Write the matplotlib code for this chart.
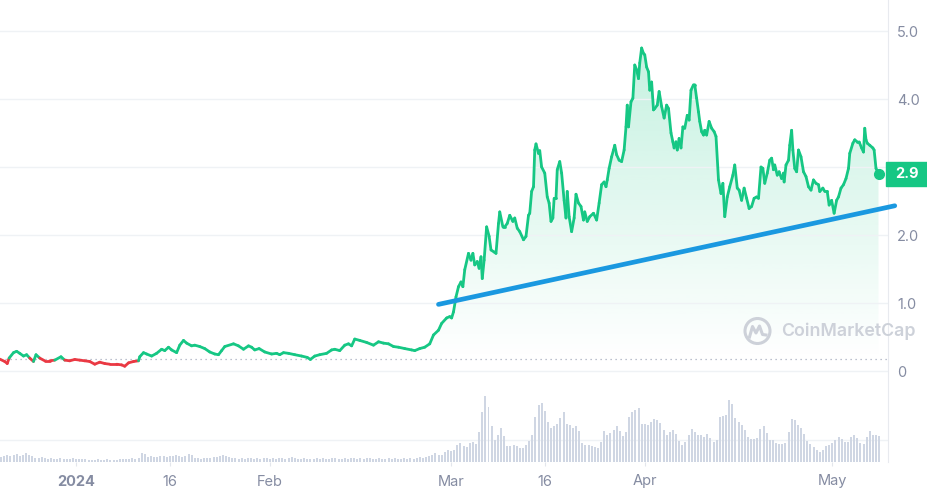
import matplotlib.pyplot as plt
import matplotlib.transforms as mtransforms
import matplotlib.colors as mcolors
import numpy as np
from matplotlib.collections import LineCollection
from matplotlib.patches import Circle, Rectangle
from matplotlib.path import Path

plt.rcParams['font.family'] = ['Inter', 'DejaVu Sans']

# price, x = days counted from 2024-01-01
days = [-12.2, -11.4, -11.0, -10.7, -10.0, -9.5, -9.0, -8.4, -7.9, -7.4,
        -6.8, -6.4, -5.8, -5.0, -4.2, -3.4, -2.4, -1.8, -1.0, -0.2,
        0.6, 1.4, 2.2, 3.0, 3.8, 4.6, 5.4, 6.5, 7.3, 7.8,
        8.4, 9.2, 10.0, 10.2, 10.8, 11.3, 12.1, 12.9, 13.7, 14.2,
        14.8, 15.3, 16.1, 16.6, 17.2, 17.7, 18.5, 19.0, 19.8, 20.6,
        21.4, 22.2, 22.8, 23.3, 23.8, 25.2, 26.0, 26.8, 27.6, 28.1,
        28.6, 29.3, 30.2, 31.3, 32.1, 32.6, 33.2, 34.0, 35.0, 36.1,
        37.0, 37.5, 38.2, 39.0, 40.1, 40.9, 41.4, 42.2, 43.0, 43.6,
        44.1, 44.6, 45.4, 46.5, 47.6, 48.4, 49.2, 50.0, 50.8, 51.6,
        52.6, 53.7, 54.2, 55.0, 55.8, 56.6, 57.2, 58.0, 58.5, 59.3,
        59.8, 60.1, 60.4, 60.8, 61.2, 61.6, 61.9, 62.2, 62.8, 63.2,
        63.5, 63.8, 64.2, 64.5, 64.8, 65.0, 65.3, 65.7, 66.1, 66.4,
        66.9, 67.2, 67.6, 67.8, 68.3, 68.6, 69.0, 69.4, 69.9, 70.2,
        70.6, 71.0, 71.6, 72.0, 72.4, 72.6, 72.9, 73.2, 73.4, 73.6,
        74.0, 74.2, 74.5, 75.0, 75.4, 75.7, 76.0, 76.3, 76.5, 76.8,
        77.0, 77.4, 77.7, 78.1, 78.4, 78.6, 78.9, 79.3, 79.7, 80.0,
        80.4, 80.8, 81.2, 81.4, 81.8, 82.2, 82.8, 83.3, 83.7, 84.1,
        84.5, 84.8, 85.0, 85.3, 85.7, 86.0, 86.2, 86.5, 86.9, 87.3,
        87.7, 88.0, 88.2, 88.4, 88.8, 89.1, 89.4, 89.7, 90.0, 90.2,
        90.5, 90.8, 91.0, 91.3, 91.6, 91.8, 92.1, 92.4, 92.6, 93.0,
        93.3, 93.7, 94.1, 94.5, 94.8, 95.2, 95.5, 95.7, 96.0, 96.2,
        96.5, 96.8, 97.1, 97.4, 97.8, 98.1, 98.4, 98.8, 99.0, 99.3,
        99.6, 99.8, 100.1, 100.4, 100.6, 100.9, 101.3, 101.7, 102.1, 102.4,
        102.8, 103.2, 103.5, 103.8, 104.2, 104.6, 105.1, 105.4, 105.8, 106.1,
        106.5, 106.9, 107.3, 107.7, 108.1, 108.5, 108.9, 109.2, 109.6, 109.9,
        110.2, 110.6, 111.0, 111.3, 111.6, 111.8, 112.2, 112.5, 112.9, 113.2,
        113.3, 113.6, 114.0, 114.2, 114.5, 114.7, 115.0, 115.3, 115.6, 116.0,
        116.4, 116.8, 117.2, 117.6, 118.0, 118.4, 118.8, 119.0, 119.5, 119.8,
        120.2, 120.5, 120.9, 121.3, 121.7, 122.0, 122.4, 122.8, 123.2, 123.6,
        123.8, 124.3, 124.6, 125.0, 125.3, 125.7, 126.0, 126.2, 126.4, 126.6,
        127.0, 127.5, 127.7, 128.0, 128.4]
price = [0.175, 0.14, 0.11, 0.19, 0.27, 0.29, 0.26, 0.22, 0.24, 0.19,
         0.14, 0.24, 0.19, 0.15, 0.15, 0.16, 0.21, 0.16, 0.15, 0.17,
         0.16, 0.15, 0.14, 0.10, 0.13, 0.11, 0.10, 0.10, 0.09, 0.07,
         0.12, 0.14, 0.15, 0.21, 0.27, 0.25, 0.22, 0.26, 0.32, 0.30,
         0.35, 0.31, 0.27, 0.38, 0.45, 0.41, 0.37, 0.38, 0.36, 0.33,
         0.28, 0.25, 0.24, 0.30, 0.36, 0.40, 0.37, 0.32, 0.37, 0.35,
         0.31, 0.33, 0.28, 0.25, 0.26, 0.24, 0.27, 0.26, 0.24, 0.22,
         0.20, 0.17, 0.22, 0.24, 0.26, 0.31, 0.32, 0.30, 0.38, 0.40,
         0.37, 0.47, 0.45, 0.42, 0.38, 0.43, 0.41, 0.40, 0.36, 0.35,
         0.33, 0.31, 0.30, 0.33, 0.35, 0.40, 0.53, 0.60, 0.70, 0.78,
         0.80, 0.78, 0.87, 1.09, 1.24, 1.31, 1.24, 1.49, 1.73, 1.63,
         1.73, 1.56, 1.61, 1.51, 1.68, 1.36, 1.63, 2.12, 1.98, 1.78,
         1.75, 1.73, 2.17, 2.34, 2.12, 2.12, 2.17, 2.29, 2.20, 2.25,
         2.10, 2.05, 1.93, 1.98, 2.29, 2.32, 2.64, 2.71, 3.25, 3.34,
         3.20, 3.24, 3.00, 2.91, 2.56, 2.47, 2.20, 2.25, 2.54, 2.54,
         2.96, 3.08, 2.91, 2.51, 2.25, 2.64, 2.27, 2.05, 2.25, 2.60,
         2.47, 2.42, 2.22, 2.34, 2.20, 2.27, 2.32, 2.22, 2.47, 2.74,
         2.78, 2.71, 2.81, 2.98, 3.15, 3.25, 3.32, 3.18, 3.10, 3.08,
         3.25, 3.59, 3.91, 3.59, 3.96, 4.01, 4.50, 4.43, 4.30, 4.53,
         4.75, 4.67, 4.65, 4.47, 4.40, 4.13, 4.25, 3.84, 3.86, 3.91,
         4.11, 3.89, 3.72, 3.91, 3.86, 3.50, 3.37, 3.28, 3.37, 3.25,
         3.42, 3.28, 3.59, 3.57, 3.76, 3.69, 4.13, 4.21, 4.21, 4.01,
         3.81, 3.67, 3.52, 3.47, 3.54, 3.47, 3.67, 3.57, 3.52, 3.45,
         2.81, 2.61, 2.76, 2.27, 2.56, 2.71, 2.88, 3.03, 2.69, 2.66,
         2.51, 2.69, 2.54, 2.39, 2.42, 2.54, 2.56, 2.54, 3.00, 2.98,
         2.76, 2.91, 3.10, 3.13, 2.96, 3.03, 2.88, 2.93, 2.83, 2.91,
         2.78, 3.03, 3.10, 3.32, 3.54, 3.25, 2.98, 2.93, 3.25, 3.15,
         2.93, 2.86, 2.71, 2.66, 2.81, 2.76, 2.74, 2.64, 2.69, 2.64,
         2.64, 2.44, 2.51, 2.32, 2.51, 2.56, 2.69, 2.74, 2.83, 2.98,
         3.20, 3.35, 3.40, 3.37, 3.37, 3.28, 3.22, 3.57, 3.40, 3.35,
         3.32, 3.28, 3.25, 2.98, 2.90]

# volume, one bar every 12 hours starting 2023-12-20 (day -12)
vol_start = -12.0
volume = [5, 6, 7, 6, 7, 8, 6, 7, 9, 7, 6,
          4, 4, 5, 4, 3, 4, 3, 3, 4, 3, 3, 3, 4, 3, 3, 3,
          3, 2, 2, 2, 3, 2, 2, 3, 2, 2, 2, 3, 3,
          3, 3, 4, 3, 4, 9, 8,
          5, 6, 5, 5, 6, 6, 5, 6, 6, 7, 6, 5, 6,
          8, 7, 4, 4, 3, 4, 4, 4, 5, 5, 6, 7, 6, 5,
          4, 4, 3, 4, 3, 4, 4, 3, 4, 3, 4, 4,
          3, 4, 3, 4, 4, 3, 4, 5, 4, 3, 3, 4, 3, 3, 3, 4, 3, 4, 3, 3,
          4, 4, 3, 3, 4, 3, 4, 4, 3, 4, 3, 4, 4, 3, 3, 4, 3, 3, 4, 3,
          4, 3, 3, 4, 3, 4, 3, 4, 5, 4, 5, 6, 7,
          9, 7, 7, 10, 12, 11, 12, 17, 19, 16, 15, 19, 20, 18, 30, 50,
          66, 55, 36, 22, 27, 34, 26, 16, 16, 17, 16, 14, 14, 17, 21, 27,
          45, 57, 59, 51, 40, 34, 36, 38, 44, 50, 38, 37, 34, 36, 31, 19,
          17, 17, 16, 15, 14, 20, 31, 27, 29, 32, 36, 31, 26, 30, 45, 50,
          52, 54, 38, 38, 37, 40, 43, 42, 39, 32, 27, 30, 32, 28, 21, 17,
          20, 27, 33, 30, 27, 27, 25, 28, 24, 20, 22, 45, 46, 47, 62, 58,
          44, 40, 37, 32, 25, 23, 23, 24, 33, 36, 29, 22, 22, 19, 18, 18,
          19, 30, 43, 42, 37, 34, 28, 21, 18, 15, 12, 10, 12, 16, 17, 19,
          22, 25, 23, 20, 20, 25, 27, 24, 19, 18, 25, 31, 27, 27, 26]

tick_days = [0, 15, 31, 60, 75, 91, 121]
tick_labels = ['2024', '16', 'Feb', 'Mar', '16', 'Apr', 'May']
price_ticks = [0, 1, 2, 3, 4, 5]
price_tick_labels = ['0', '1.0', '2.0', '3.0', '4.0', '5.0']
trend_days = [58.0, 131.0]
trend_price = [0.98, 2.43]

green = '#16c784'
red = '#ea3943'
grey = '#858ca2'
gridc = '#eff2f5'

d = np.array(days)
p = np.array(price)
base = p[0]

fig = plt.figure(figsize=(9.28, 4.95), dpi=100)
axv = fig.add_axes([0, 33 / 495, 888 / 928, 82 / 495])
ax = fig.add_axes([0, 33 / 495, 888 / 928, 462 / 495], sharex=axv)
ax.patch.set_alpha(0)

# volume bars
vol_x = vol_start + 0.5 * np.arange(len(volume))
axv.bar(vol_x, volume, width=0.32, color='#cfd6e3', lw=0)
axv.axhline(22, color=gridc, lw=1, zorder=0)
axv.set_ylim(0, 82)
axv.tick_params(left=False, labelleft=False, bottom=False, labelbottom=False)
for s in axv.spines.values():
    s.set_visible(False)

# gradient fill between line and the opening price
poly = ax.fill_between(d, p, base, where=p >= base, interpolate=True, color='none', lw=0)
grad = np.zeros((256, 1, 4))
grad[..., :3] = mcolors.to_rgb(green)
grad[:, 0, 3] = np.linspace(0.0, 0.26, 256)
img = ax.imshow(grad, extent=[d[0], d[-1], base, 5.0], origin='lower', aspect='auto', zorder=1)
img.set_clip_path(Path.make_compound_path(*poly.get_paths()), ax.transData)

ax.axhline(base, color='#a6adbf', lw=0.9, ls=(0, (1, 3)), zorder=2)

# price line, red below the opening price
pts = np.column_stack([d, p])
segs = np.stack([pts[:-1], pts[1:]], axis=1)
cols = [green if (a + b) / 2 >= base else red for a, b in zip(p[:-1], p[1:])]
ax.add_collection(LineCollection(segs, colors=cols, linewidths=2.0,
                                 capstyle='round', joinstyle='round', zorder=3))
ax.plot(d[-1], p[-1], 'o', ms=7, color=green, zorder=4)

# hand drawn trend line
ax.plot(trend_days, trend_price, color='#1a98e0', lw=3.4, solid_capstyle='round',
        zorder=5, clip_on=False)

ax.set_xlim(-12.16, 129.92)
ax.set_ylim(-1.338, 5.456)

ax.set_yticks(price_ticks, price_tick_labels)
ax.yaxis.tick_right()
ax.yaxis.grid(True, color=gridc, lw=1)
ax.tick_params(axis='y', length=0, pad=6.5, labelcolor=grey, labelsize=10.5)
ax.set_xticks(tick_days, tick_labels)
ax.tick_params(axis='x', length=3, color='#e3e6ec', pad=6, labelcolor=grey, labelsize=10.5)
ax.get_xticklabels()[0].set_fontweight('bold')
for k in ['top', 'left', 'bottom']:
    ax.spines[k].set_visible(False)
ax.spines['right'].set_color('#e8eaef')

# last price tag
trans = mtransforms.blended_transform_factory(ax.transAxes, ax.transData)
ax.add_patch(Rectangle((886 / 888, p[-1] - 12 / 68), 50 / 888, 24 / 68, transform=trans,
                       color=green, clip_on=False, zorder=6))
ax.text(907 / 888, p[-1], '2.9', transform=trans, color='white', fontsize=10.5,
        fontweight='bold', ha='center', va='center', zorder=7, clip_on=False)

# watermark
wm = '#cdd1d9'
fig.text(781 / 928, 1 - 331 / 495, 'CoinMarketCap', fontsize=12.8, color=wm,
         fontweight='semibold', ha='left', va='center')
fig.add_artist(Circle((7.575, 1.64), 0.125, transform=fig.dpi_scale_trans,
                      fill=False, ec=wm, lw=2.2))
wx = np.array([-0.08, -0.05, -0.015, 0.02, 0.05, 0.085])
wy = np.array([-0.06, 0.045, -0.02, 0.05, -0.035, -0.04])
fig.add_artist(plt.Line2D(7.575 + wx, 1.64 + wy, transform=fig.dpi_scale_trans,
                          color=wm, lw=2.2, solid_joinstyle='round'))

fig.savefig('out.png', dpi=100)
